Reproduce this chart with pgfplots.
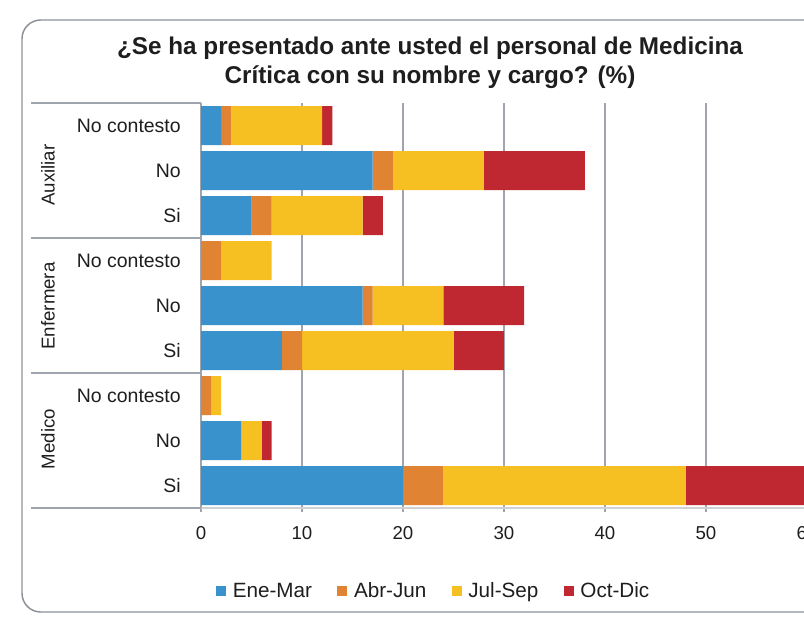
\documentclass[border=0pt]{standalone}
\usepackage{fontspec}
\setmainfont{Liberation Sans}
\usepackage{pgfplots}
\pgfplotsset{compat=1.18}
\definecolor{cBlue}{RGB}{58,146,204}
\definecolor{cOrange}{RGB}{224,131,50}
\definecolor{cYellow}{RGB}{247,192,34}
\definecolor{cRed}{RGB}{191,40,48}
\definecolor{cGrid}{RGB}{160,164,172}
\definecolor{cFrame}{RGB}{140,145,152}
\definecolor{cText}{RGB}{30,30,30}
\begin{document}
\begin{tikzpicture}[x=0.75pt,y=-0.75pt]
\path[use as bounding box, clip] (0,0) rectangle (804,629);
\draw[cFrame, line width=1.1pt, rounded corners=14pt] (22,20) rectangle (900,612);
\node[font=\bfseries\fontsize{18.2}{21}\selectfont, text=cText] at (430,48) {¿Se ha presentado ante usted el personal de Medicina};
\node[font=\bfseries\fontsize{18.2}{21}\selectfont, text=cText] at (430,77) {Crítica con su nombre y cargo? (\%)};
\foreach \yy in {103,238,373,508} {\draw[cGrid, line width=0.9pt] (31,\yy) -- (201,\yy);}
\node[rotate=90, font=\fontsize{14}{16}\selectfont, text=cText] at (48,175) {Auxiliar};
\node[rotate=90, font=\fontsize{14}{16}\selectfont, text=cText] at (48,306) {Enfermera};
\node[rotate=90, font=\fontsize{14}{16}\selectfont, text=cText] at (48,439) {Medico};
\begin{axis}[
  at={(150.75pt,-381pt)}, anchor=south west,
  scale only axis, width=492.375pt, height=303.75pt,
  xbar stacked, bar width=29.25pt,
  xmin=0, xmax=65, ymin=-0.5, ymax=8.5, y dir=reverse,
  ytick={0,...,8},
  yticklabels={No contesto,No,Si,No contesto,No,Si,No contesto,No,Si},
  xtick={0,10,...,60},
  xmajorgrids, grid style={cGrid, line width=0.9pt},
  axis x line=bottom, axis y line=left,
  x axis line style={draw=cGrid!50, line width=0.9pt, -},
  y axis line style={draw=cGrid, line width=0.9pt, -},
  xtick align=outside, major tick length=3pt,
  x tick style={cGrid, line width=0.9pt},
  y tick style={draw=none},
  /pgf/number format/assume math mode=true,
  tick label style={font=\fontsize{14}{16}\selectfont, text=cText},
  yticklabel style={inner sep=0pt, xshift=-13.5pt, font=\fontsize{14.6}{16}\selectfont},
  xticklabel style={inner sep=0pt, yshift=-11pt},
  legend style={at={(0.355,-0.205)}, anchor=center, draw=none, fill=none,
    legend columns=4, font=\fontsize{15.5}{17}\selectfont, text=cText,
    /tikz/every odd column/.append style={column sep=3pt},
    /tikz/every even column/.append style={column sep=17pt}},
  legend image code/.code={\fill[#1] (0pt,-3.75pt) rectangle (7.5pt,3.75pt);},
]
\addplot[fill=cBlue, draw=none] coordinates {(2,0) (17,1) (5,2) (0,3) (16,4) (8,5) (0,6) (4,7) (20,8)};
\addplot[fill=cOrange, draw=none] coordinates {(1,0) (2,1) (2,2) (2,3) (1,4) (2,5) (1,6) (0,7) (4,8)};
\addplot[fill=cYellow, draw=none] coordinates {(9,0) (9,1) (9,2) (5,3) (7,4) (15,5) (1,6) (2,7) (24,8)};
\addplot[fill=cRed, draw=none] coordinates {(1,0) (10,1) (2,2) (0,3) (8,4) (5,5) (0,6) (1,7) (14,8)};
\legend{Ene-Mar,Abr-Jun,Jul-Sep,Oct-Dic}
\end{axis}
\end{tikzpicture}
\end{document}
